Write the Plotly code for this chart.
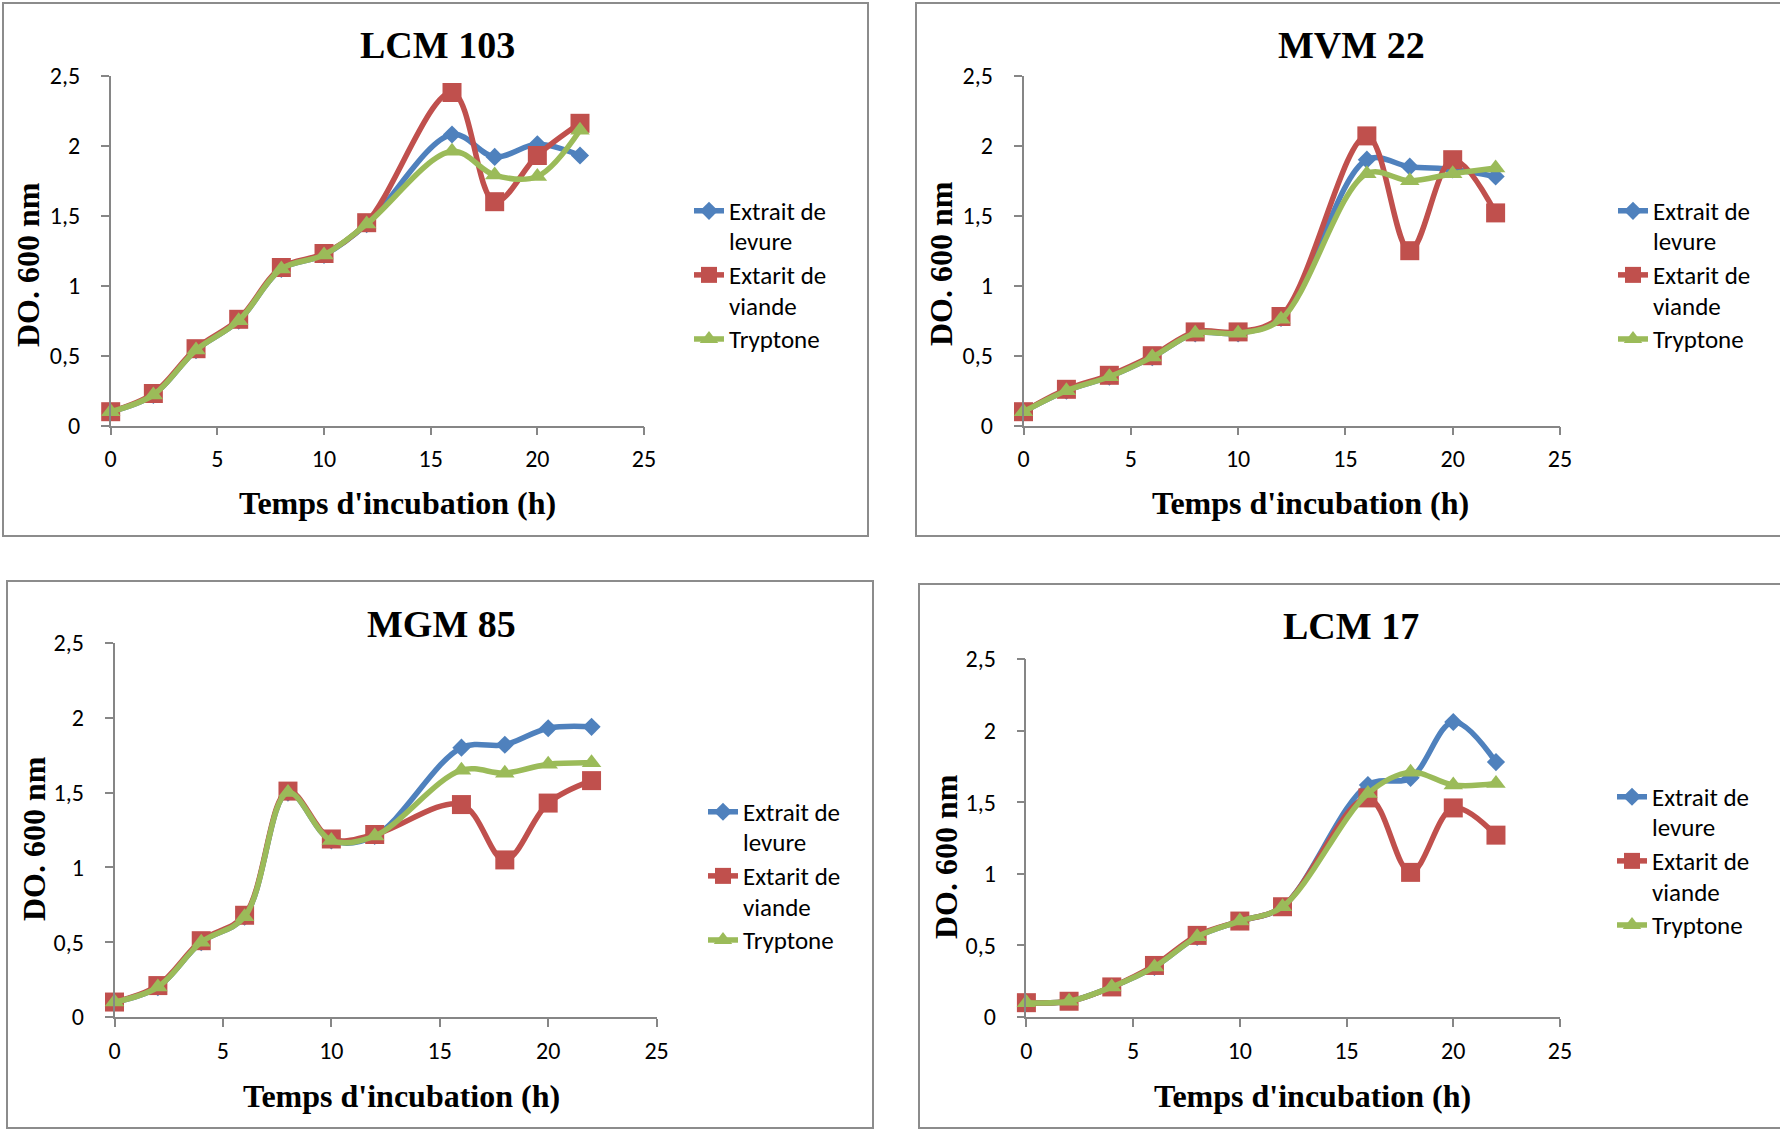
import plotly.graph_objects as go

# Incubation times (h)
hours = [0, 2, 4, 6, 8, 10, 12, 16, 18, 20, 22]

series_names = ["Extrait de<br>levure", "Extarit de<br>viande", "Tryptone"]
series_colors = ["#4F81BD", "#C0504D", "#9BBB59"]
series_symbols = ["diamond", "square", "triangle-up"]
series_sizes = [14, 19, 17]

titles = ["LCM 103", "MVM 22", "MGM 85", "LCM 17"]

# OD 600 nm per strain: [levure, viande, tryptone]
lcm103_levure = [0.10, 0.22, 0.54, 0.75, 1.12, 1.22, 1.44, 2.08, 1.92, 2.01, 1.93]
lcm103_viande = [0.10, 0.23, 0.55, 0.76, 1.13, 1.23, 1.45, 2.38, 1.60, 1.93, 2.16]
lcm103_tryptone = [0.10, 0.22, 0.54, 0.75, 1.12, 1.22, 1.44, 1.96, 1.79, 1.78, 2.11]

mvm22_levure = [0.10, 0.25, 0.35, 0.49, 0.66, 0.66, 0.77, 1.90, 1.85, 1.83, 1.78]
mvm22_viande = [0.10, 0.26, 0.36, 0.50, 0.67, 0.67, 0.78, 2.07, 1.25, 1.90, 1.52]
mvm22_tryptone = [0.10, 0.25, 0.35, 0.49, 0.66, 0.66, 0.76, 1.80, 1.75, 1.80, 1.84]

mgm85_levure = [0.10, 0.20, 0.50, 0.67, 1.50, 1.18, 1.21, 1.80, 1.82, 1.93, 1.94]
mgm85_viande = [0.10, 0.21, 0.51, 0.68, 1.51, 1.19, 1.22, 1.42, 1.05, 1.43, 1.58]
mgm85_tryptone = [0.10, 0.20, 0.50, 0.67, 1.50, 1.18, 1.21, 1.65, 1.63, 1.69, 1.70]

lcm17_levure = [0.10, 0.11, 0.21, 0.35, 0.56, 0.67, 0.77, 1.62, 1.67, 2.06, 1.78]
lcm17_viande = [0.10, 0.11, 0.21, 0.36, 0.57, 0.67, 0.77, 1.53, 1.01, 1.46, 1.27]
lcm17_tryptone = [0.10, 0.11, 0.21, 0.35, 0.56, 0.67, 0.77, 1.56, 1.71, 1.62, 1.63]

panel_data = [
    [lcm103_levure, lcm103_viande, lcm103_tryptone],
    [mvm22_levure, mvm22_viande, mvm22_tryptone],
    [mgm85_levure, mgm85_viande, mgm85_tryptone],
    [lcm17_levure, lcm17_viande, lcm17_tryptone],
]

x_ticks = [0, 5, 10, 15, 20, 25]
y_ticks = [0, 0.5, 1, 1.5, 2, 2.5]
y_tick_text = ["0", "0,5", "1", "1,5", "2", "2,5"]

W, H = 1780, 1130


def px_x(v):
    return v / W


def px_y(v):
    return 1 - v / H


# Layout geometry in pixels
plot_boxes = [  # (left, right, top, bottom) of each plotting area
    (110.7, 644.0, 75.7, 425.7),
    (1023.5, 1560.0, 75.7, 425.7),
    (114.5, 656.6, 643.0, 1017.0),
    (1026.4, 1560.0, 659.0, 1017.0),
]
frames = [  # chart borders
    (3, 868, 3, 536),
    (916, 1781, 3, 536),
    (7, 873, 581, 1128),
    (919, 1781, 584, 1128),
]
title_pos = [(437, 45), (1351, 45), (441, 624), (1351, 626)]
xtitle_pos = [(397, 503), (1310, 503), (401, 1096), (1312, 1096)]
ytitle_pos = [(28, 265), (941, 264), (34, 839), (946, 857)]
legend_pos = [(689, 189), (1613, 189), (703, 790), (1612, 775)]

serif = "Liberation Serif, Times New Roman, serif"
sans = "Carlito, Lato, Calibri, sans-serif"
axis_gray = "#868686"

fig = go.Figure()
layout = dict(
    width=W,
    height=H,
    margin=dict(l=0, r=0, t=0, b=0, pad=0, autoexpand=False),
    paper_bgcolor="white",
    plot_bgcolor="white",
    separators=", ",
    showlegend=True,
    shapes=[],
    annotations=[],
)

for i in range(4):
    sfx = "" if i == 0 else str(i + 1)
    xa, ya = "x" + sfx, "y" + sfx
    leg = "legend" + sfx
    for s in range(3):
        fig.add_trace(go.Scatter(
            x=hours,
            y=panel_data[i][s],
            name='<span style="font-size:25px">' + series_names[s] + "</span>",
            mode="lines+markers",
            line=dict(color=series_colors[s], width=5.5, shape="spline", smoothing=1),
            marker=dict(symbol=series_symbols[s], size=series_sizes[s], color=series_colors[s]),
            cliponaxis=False,
            xaxis=xa,
            yaxis=ya,
            legend=leg,
        ))

    l, r, t, b = plot_boxes[i]
    layout["xaxis" + sfx] = dict(
        domain=[px_x(l), px_x(r)],
        anchor=ya,
        range=[0, 25],
        tickvals=x_ticks,
        ticks="outside",
        ticklen=8,
        tickwidth=1.5,
        tickcolor=axis_gray,
        showline=True,
        linecolor=axis_gray,
        linewidth=1.5,
        showgrid=False,
        zeroline=False,
        ticklabelstandoff=3,
        tickfont=dict(family=sans, size=24, color="black"),
    )
    layout["yaxis" + sfx] = dict(
        domain=[px_y(b), px_y(t)],
        anchor=xa,
        range=[0, 2.5],
        tickvals=y_ticks,
        ticktext=y_tick_text,
        ticks="outside",
        ticklen=8,
        tickwidth=1.5,
        tickcolor=axis_gray,
        showline=True,
        linecolor=axis_gray,
        linewidth=1.5,
        showgrid=False,
        zeroline=False,
        ticklabelstandoff=16,
        tickfont=dict(family=sans, size=24, color="black"),
    )
    layout[leg] = dict(
        x=px_x(legend_pos[i][0]),
        y=px_y(legend_pos[i][1]),
        xanchor="left",
        yanchor="top",
        valign="top",
        bgcolor="rgba(0,0,0,0)",
        borderwidth=0,
        tracegroupgap=0,
        font=dict(family=sans, size=23.5, color="black"),
    )

    fl, fr, ft, fb = frames[i]
    layout["shapes"].append(dict(
        type="rect", xref="paper", yref="paper",
        x0=px_x(fl), x1=px_x(fr), y0=px_y(fb), y1=px_y(ft),
        line=dict(color="#8C8C8C", width=2), fillcolor="rgba(0,0,0,0)", layer="below",
    ))

    layout["annotations"].append(dict(
        text="<b>" + titles[i] + "</b>", xref="paper", yref="paper",
        x=px_x(title_pos[i][0]), y=px_y(title_pos[i][1]),
        xanchor="center", yanchor="middle", showarrow=False,
        font=dict(family=serif, size=38, color="black"),
    ))
    layout["annotations"].append(dict(
        text="<b>Temps d'incubation (h)</b>", xref="paper", yref="paper",
        x=px_x(xtitle_pos[i][0]), y=px_y(xtitle_pos[i][1]),
        xanchor="center", yanchor="middle", showarrow=False,
        font=dict(family=serif, size=32, color="black"),
    ))
    layout["annotations"].append(dict(
        text="<b>DO. 600 nm</b>", xref="paper", yref="paper",
        x=px_x(ytitle_pos[i][0]), y=px_y(ytitle_pos[i][1]),
        xanchor="center", yanchor="middle", showarrow=False, textangle=-90,
        font=dict(family=serif, size=32, color="black"),
    ))

fig.update_layout(**layout)
fig.write_html("out.html")
